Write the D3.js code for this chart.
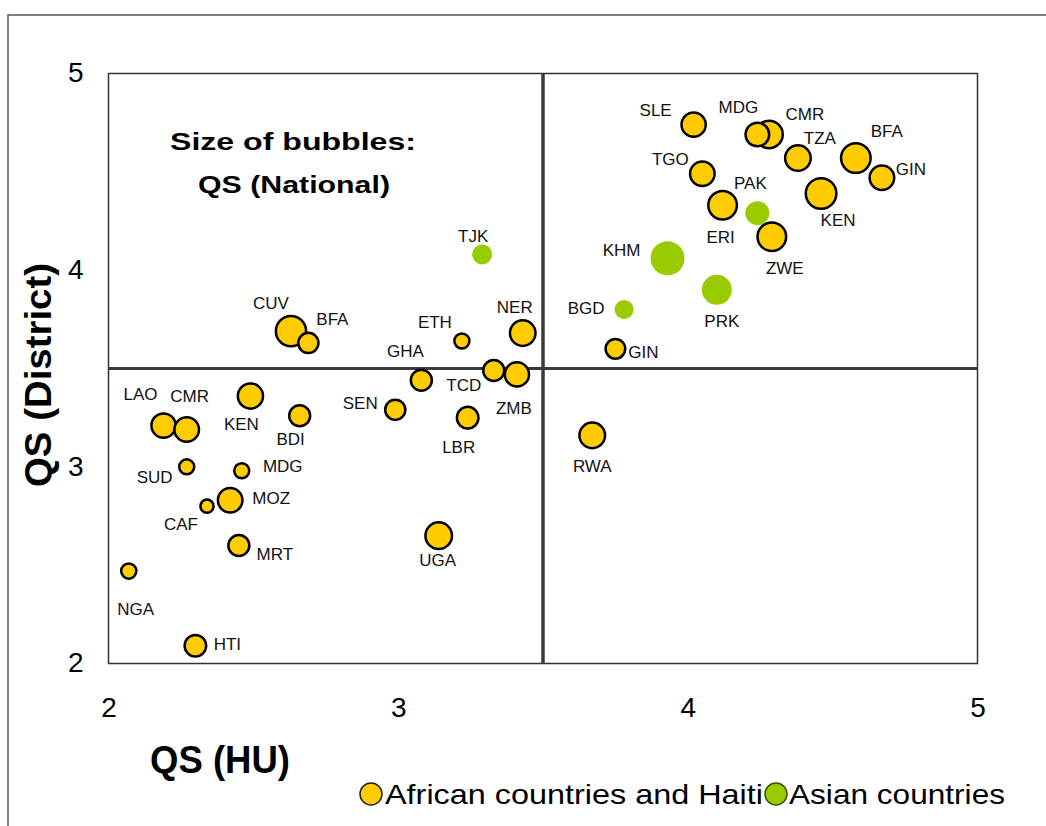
<!DOCTYPE html>
<html>
<head>
<meta charset="utf-8">
<script src="https://cdn.jsdelivr.net/npm/d3@7"></script>
<style>
  html, body { margin: 0; padding: 0; background: #fff; }
  svg { display: block; }
</style>
</head>
<body>
<svg id="chart" width="1046" height="826"></svg>
<script>
// ---------------- DATA ----------------
const countries = ["SLE","CMR","MDG","TZA","BFA","GIN","TGO","ERI","KEN","PAK","ZWE","KHM","PRK","BGD","GIN","TJK",
  "CUV","BFA","ETH","NER","GHA","TCD","ZMB","LAO","CMR","KEN","BDI","SEN","LBR","SUD","MDG","CAF","MOZ","MRT","UGA","NGA","HTI","RWA"];
const qsHU = [4.02,4.28,4.24,4.38,4.58,4.67,4.05,4.12,4.46,4.24,4.29,3.93,4.10,3.78,3.75,3.29,
  2.63,2.69,3.22,3.43,3.08,3.33,3.41,2.19,2.27,2.49,2.66,2.99,3.24,2.27,2.46,2.34,2.42,2.45,3.14,2.07,2.30,3.67];
const qsDistrict = [4.74,4.69,4.69,4.57,4.57,4.47,4.49,4.33,4.39,4.29,4.17,4.06,3.90,3.80,3.60,4.08,
  3.69,3.63,3.64,3.68,3.44,3.49,3.47,3.21,3.19,3.36,3.26,3.29,3.25,3.00,2.98,2.80,2.83,2.60,2.65,2.47,2.09,3.16];
const qsNational = [2.26,2.94,2.15,2.53,3.38,2.33,2.33,3.16,3.61,2.22,3.16,4.46,3.47,1.39,1.48,1.54,
  3.52,1.57,0.87,2.53,1.70,1.70,2.26,2.26,2.33,2.45,1.70,1.57,1.80,0.87,0.87,0.67,2.33,1.70,2.73,0.89,1.80,2.53];
const group = ["AF","AF","AF","AF","AF","AF","AF","AF","AF","AS","AF","AS","AS","AS","AF","AS",
  "AF","AF","AF","AF","AF","AF","AF","AF","AF","AF","AF","AF","AF","AF","AF","AF","AF","AF","AF","AF","AF","AF"];
const groupNames = ["African countries and Haiti", "Asian countries"];
const xTicks = [2, 3, 4, 5];
const yTicks = [2, 3, 4, 5];
const quadrantX = 3.5, quadrantY = 3.5;

// label placement (layout, pixels relative to bubble centre)
const labelDx = [-38,36,-19,22,31,29,-32,-2,17,-7,13,-46,5,-38,28,-9,
  -20,24,-27,-8,-16,-30,-3,-23,3,-9,-9,-35,-9,-32,41,-26,41,36,-1,7,32,0];
const labelDy = [-14,-20,-27,-20,-27,-8,-14,32,27,-30,32,-8,32,-1,4,-18,
  -28,-23,-18,-26,-29,15,34,-31,-33,28,24,-6,30,11,-4,18,-2,9,25,38,-1,31];

// ---------------- CHART ----------------
const svg = d3.select("#chart");
const colors = { AF: "#FFCC00", AS: "#99CC00" };
const strokes = { AF: "#000", AS: "none" };

const x = d3.scaleLinear().domain([2, 5]).range([108.5, 977.5]);
const y = d3.scaleLinear().domain([2, 5]).range([663.5, 73.5]);
const r = d3.scaleSqrt().domain([0, 5]).range([0, 18]);

// outer frame
svg.append("rect").attr("x", 8).attr("y", 15).attr("width", 1060).attr("height", 840)
  .attr("fill", "none").attr("stroke", "#555").attr("stroke-width", 1.5);

// plot border
svg.append("rect")
  .attr("x", x(2)).attr("y", y(5))
  .attr("width", x(5) - x(2)).attr("height", y(2) - y(5))
  .attr("fill", "none").attr("stroke", "#333").attr("stroke-width", 1.5);

// quadrant lines
svg.append("line").attr("x1", x(quadrantX)).attr("x2", x(quadrantX)).attr("y1", y(5)).attr("y2", y(2))
  .attr("stroke", "#3a3a3a").attr("stroke-width", 3.5);
svg.append("line").attr("x1", x(2)).attr("x2", x(5)).attr("y1", y(quadrantY)).attr("y2", y(quadrantY))
  .attr("stroke", "#3a3a3a").attr("stroke-width", 3);

// axes
const xAxis = svg.append("g").attr("transform", `translate(0,${y(2)})`)
  .call(d3.axisBottom(x).tickValues(xTicks).tickSize(0).tickPadding(34).tickFormat(d3.format("d")));
const yAxis = svg.append("g").attr("transform", `translate(${x(2)},0)`)
  .call(d3.axisLeft(y).tickValues(yTicks).tickSize(0).tickPadding(25).tickFormat(d3.format("d")));
[xAxis, yAxis].forEach(a => {
  a.select(".domain").remove();
  a.selectAll("text").attr("font-family", "Liberation Sans, Arial, sans-serif")
    .attr("font-size", 28).attr("fill", "#000");
});
yAxis.selectAll("text").attr("dy", "0.3em");

// axis titles
svg.append("text").attr("x", 150).attr("y", 760).attr("dominant-baseline", "central")
  .attr("font-family", "Liberation Sans, Arial, sans-serif").attr("font-weight", "bold")
  .attr("font-size", 38).attr("textLength", 140).attr("lengthAdjust", "spacingAndGlyphs")
  .text("QS (HU)");
svg.append("text").attr("transform", "translate(38,375) rotate(-90)")
  .attr("text-anchor", "middle").attr("dominant-baseline", "central")
  .attr("font-family", "Liberation Sans, Arial, sans-serif").attr("font-weight", "bold")
  .attr("font-size", 36).attr("textLength", 224).attr("lengthAdjust", "spacingAndGlyphs")
  .text("QS (District)");

// annotation
const note = svg.append("g").attr("font-family", "Liberation Sans, Arial, sans-serif")
  .attr("font-weight", "bold").attr("font-size", 24).attr("text-anchor", "middle");
note.append("text").attr("x", 293).attr("y", 141).attr("dominant-baseline", "central")
  .attr("textLength", 246).attr("lengthAdjust", "spacingAndGlyphs").text("Size of bubbles:");
note.append("text").attr("x", 294).attr("y", 184).attr("dominant-baseline", "central")
  .attr("textLength", 192).attr("lengthAdjust", "spacingAndGlyphs").text("QS (National)");

// bubbles
const data = countries.map((c, i) => ({
  name: c, hu: qsHU[i], district: qsDistrict[i], national: qsNational[i], group: group[i],
  dx: labelDx[i], dy: labelDy[i]
}));

svg.append("g").selectAll("circle").data(data).join("circle")
  .attr("cx", d => x(d.hu)).attr("cy", d => y(d.district))
  .attr("r", d => r(d.national))
  .attr("fill", d => colors[d.group])
  .attr("stroke", d => strokes[d.group])
  .attr("stroke-width", 2.5);

svg.append("g").selectAll("text").data(data).join("text")
  .attr("x", d => x(d.hu) + d.dx).attr("y", d => y(d.district) + d.dy)
  .attr("text-anchor", "middle").attr("dominant-baseline", "central")
  .attr("font-family", "Liberation Sans, Arial, sans-serif").attr("font-size", 17)
  .attr("fill", "#111")
  .text(d => d.name);

// legend
const legend = svg.append("g").attr("font-family", "Liberation Sans, Arial, sans-serif").attr("font-size", 28);
const legendItems = [
  { key: "AF", cx: 371, tx: 385, len: 378 },
  { key: "AS", cx: 776, tx: 789, len: 216 }
];
legendItems.forEach((it, i) => {
  legend.append("circle").attr("cx", it.cx).attr("cy", 794).attr("r", 11)
    .attr("fill", colors[it.key]).attr("stroke", it.key === "AF" ? "#222" : "#3d5200").attr("stroke-width", 1.5);
  legend.append("text").attr("x", it.tx).attr("y", 794).attr("dominant-baseline", "central")
    .attr("textLength", it.len).attr("lengthAdjust", "spacingAndGlyphs")
    .text(groupNames[i]);
});
</script>
</body>
</html>
